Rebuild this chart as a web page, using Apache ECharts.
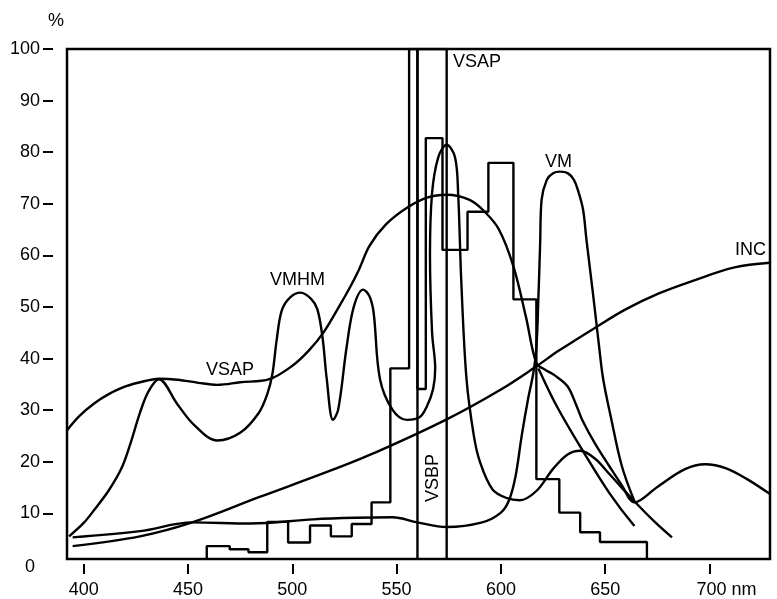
<!DOCTYPE html>
<html><head><meta charset="utf-8">
<script src="https://cdn.jsdelivr.net/npm/echarts@6/dist/echarts.min.js"></script>
<style>html,body{margin:0;padding:0;background:#fff}#c{width:777px;height:599px}</style>
</head><body><div id="c"></div>
<script>
// ---- data (nm, %) ----
var xTicks = [400, 450, 500, 550, 600, 650, 700];
var yTicks = [0, 10, 20, 30, 40, 50, 60, 70, 80, 90, 100];

var incNm  = [394.7, 427, 452, 484, 516, 540, 574, 600, 617, 628, 646, 660, 676, 692, 712, 729];
var incVal = [3.5, 5.4, 8.1, 13, 17.8, 21.7, 28.1, 33.9, 38.4, 41.5, 46.1, 49.5, 52.6, 55, 57.6, 58.5];

var vsapNm  = [392, 398, 405, 412, 420, 430, 436, 445, 455, 464, 475, 489, 500, 508, 515, 522, 528, 532, 537, 545, 555, 565, 574, 585, 592, 599, 606, 612, 617, 621, 626, 632, 636, 639, 645, 652, 658, 664, 675, 688, 698, 708, 718, 729];
var vsapVal = [26, 28.8, 31.2, 33, 34.5, 35.6, 36, 35.8, 35.2, 34.8, 35.3, 35.9, 38.5, 41.5, 45, 49.7, 54, 57.2, 61.8, 66, 69.2, 71.2, 71.7, 70.7, 68.5, 65, 57.8, 48, 39, 37.8, 36.6, 34.5, 31, 28, 23.5, 19, 15.3, 12, 15, 18.4, 19.4, 18.6, 16.5, 13.6];

var vmhmNm  = [393, 400, 405, 412, 418, 422, 427, 431, 436, 445, 453, 464, 475, 484, 488, 490.5, 492.5, 495, 499, 504, 509, 512, 514.5, 516.5, 519.5, 522, 526, 529.5, 534, 537, 539, 542, 548, 555, 561, 564.5, 567.5, 568.5, 567, 566, 567, 570, 574, 578, 579.5, 581, 583.5, 587, 590, 596, 603, 609, 617, 625, 632, 638, 645, 652, 658, 664, 673, 682];
var vmhmVal = [5.4, 8, 10.5, 14.3, 18.5, 22.9, 29.4, 33.5, 35.9, 31, 27, 24, 25.5, 29.4, 33, 37, 43.5, 49.3, 51.8, 52.7, 51.5, 49.5, 44, 36, 28, 30, 42, 50, 53.3, 52, 48.8, 36, 30, 28, 28.5, 30.6, 34, 38, 45, 60, 72, 79, 81.4, 79, 72, 55, 36, 25, 19.8, 14.5, 12.8, 12.4, 14.2, 18.5, 21.3, 22, 20.5, 17.5, 14.8, 12.2, 8.5, 5.2];

var vmNm  = [394.7, 427, 452, 480, 510, 530, 548, 560, 574, 591, 600, 604, 607, 610, 613, 615.5, 617, 618, 618.8, 619.5, 622, 625, 628.3, 632, 635, 637, 639.4, 641, 644, 647, 649, 653, 658, 664];
var vmVal = [5.2, 6.4, 8.1, 7.9, 8.7, 9, 9.1, 8.1, 7.2, 8.1, 10, 12.5, 17, 25, 32, 37, 42, 52, 62, 70.7, 74.6, 75.9, 76.2, 75.9, 74.6, 72.5, 68.8, 63, 53, 42.5, 36, 28, 19, 12.2];

var tailNm  = [618, 627, 640, 652, 664];
var tailVal = [38, 30.5, 21.5, 13.8, 7.4];

var histEdges = [459, 470, 479, 488, 498, 508.5, 518.5, 528.5, 538, 547, 556, 560, 564, 572, 584, 594, 606, 617, 628, 638, 647.5, 670];
var histVal   = [3.5, 2.9, 2.3, 8.2, 4.2, 7.5, 5.4, 7.8, 12, 38, 100, 34, 82.7, 61, 68.4, 77.9, 51.4, 16.5, 10, 6.2, 4.3];

var vsbpEdges = [560, 574];
var vsbpVal = 100;

var base = 1;

function pairs(xs, ys) { return xs.map(function (x, i) { return [x, ys[i]]; }); }
function steps(edges, vals) {
  var d = [[edges[0], base]];
  for (var i = 0; i < vals.length; i++) { d.push([edges[i], vals[i]]); d.push([edges[i + 1], vals[i]]); }
  d.push([edges[edges.length - 1], base]);
  return d;
}

var FONT = 'Liberation Sans, Arial, sans-serif';
var lineStyle = { color: '#000', width: 2.4 };
function curve(name, data) {
  return { name: name, type: 'line', xAxisIndex: 1, yAxisIndex: 1, data: data, smooth: 0.35, showSymbol: false, symbol: 'none', lineStyle: lineStyle, silent: true, animation: false };
}
function poly(name, data) {
  return { name: name, type: 'line', xAxisIndex: 1, yAxisIndex: 1, data: data, smooth: false, showSymbol: false, symbol: 'none', lineStyle: lineStyle, silent: true, animation: false };
}

var chart = echarts.init(document.getElementById('c'), null, { renderer: 'canvas' });
chart.setOption({
  animation: false,
  backgroundColor: '#fff',
  textStyle: { fontFamily: FONT, color: '#000' },
  grid: [
    { left: 67, top: 49, width: 703, height: 516, show: false },
    { left: 67, top: 49, width: 703, height: 511, show: true, borderColor: '#000', borderWidth: 2.5, backgroundColor: 'transparent' }
  ],
  xAxis: [
    { type: 'value', gridIndex: 0, min: 392, max: 729, show: false },
    { type: 'value', gridIndex: 1, min: 392, max: 729, offset: 5,
      axisLine: { show: false }, splitLine: { show: false },
      axisTick: { show: true, length: 10, lineStyle: { color: '#000', width: 2 }, customValues: xTicks },
      axisLabel: { show: true, margin: 17, fontSize: 18, fontFamily: FONT, color: '#000', customValues: xTicks,
        formatter: function (v) { return v === 700 ? '{p|}700 nm' : String(v); },
        rich: { p: { width: 34 } } } }
  ],
  yAxis: [
    { type: 'value', gridIndex: 0, min: 0, max: 100, interval: 10, offset: 14,
      axisLine: { show: false }, splitLine: { show: false },
      axisTick: { show: true, length: 10, lineStyle: { color: '#000', width: 2 }, customValues: [10, 20, 30, 40, 50, 60, 70, 80, 90, 100] },
      axisLabel: { show: true, margin: 13, fontSize: 18, fontFamily: FONT, color: '#000', customValues: yTicks,
        formatter: function (v) { return v === 0 ? '{z|0}' : String(v); },
        rich: { z: { fontSize: 18, fontFamily: FONT, color: '#000', padding: [4, 5, 0, 0] } } } },
    { type: 'value', gridIndex: 1, min: base, max: 100, show: false }
  ],
  series: [
    curve('INC', pairs(incNm, incVal)),
    curve('VSAP', pairs(vsapNm, vsapVal)),
    curve('VMHM', pairs(vmhmNm, vmhmVal)),
    curve('VM', pairs(vmNm, vmVal)),
    curve('tail', pairs(tailNm, tailVal)),
    poly('VSAP hist', steps(histEdges, histVal)),
    poly('VSBP', [[vsbpEdges[0], base], [vsbpEdges[0], vsbpVal], [vsbpEdges[1], vsbpVal], [vsbpEdges[1], base]])
  ],
  graphic: [
    { type: 'text', left: 48, top: 12, style: { text: '%', font: '18px ' + FONT, fill: '#000' } },
    { type: 'text', left: 453, top: 53, style: { text: 'VSAP', font: '18px ' + FONT, fill: '#000' } },
    { type: 'text', left: 545, top: 153, style: { text: 'VM', font: '18px ' + FONT, fill: '#000' } },
    { type: 'text', left: 735, top: 241, style: { text: 'INC', font: '18px ' + FONT, fill: '#000' } },
    { type: 'text', left: 270, top: 271, style: { text: 'VMHM', font: '18px ' + FONT, fill: '#000' } },
    { type: 'text', left: 206, top: 361, style: { text: 'VSAP', font: '18px ' + FONT, fill: '#000' } },
    { type: 'text', x: 424, y: 502, rotation: Math.PI / 2, style: { text: 'VSBP', font: '18px ' + FONT, fill: '#000' } }
  ]
});
</script></body></html>
